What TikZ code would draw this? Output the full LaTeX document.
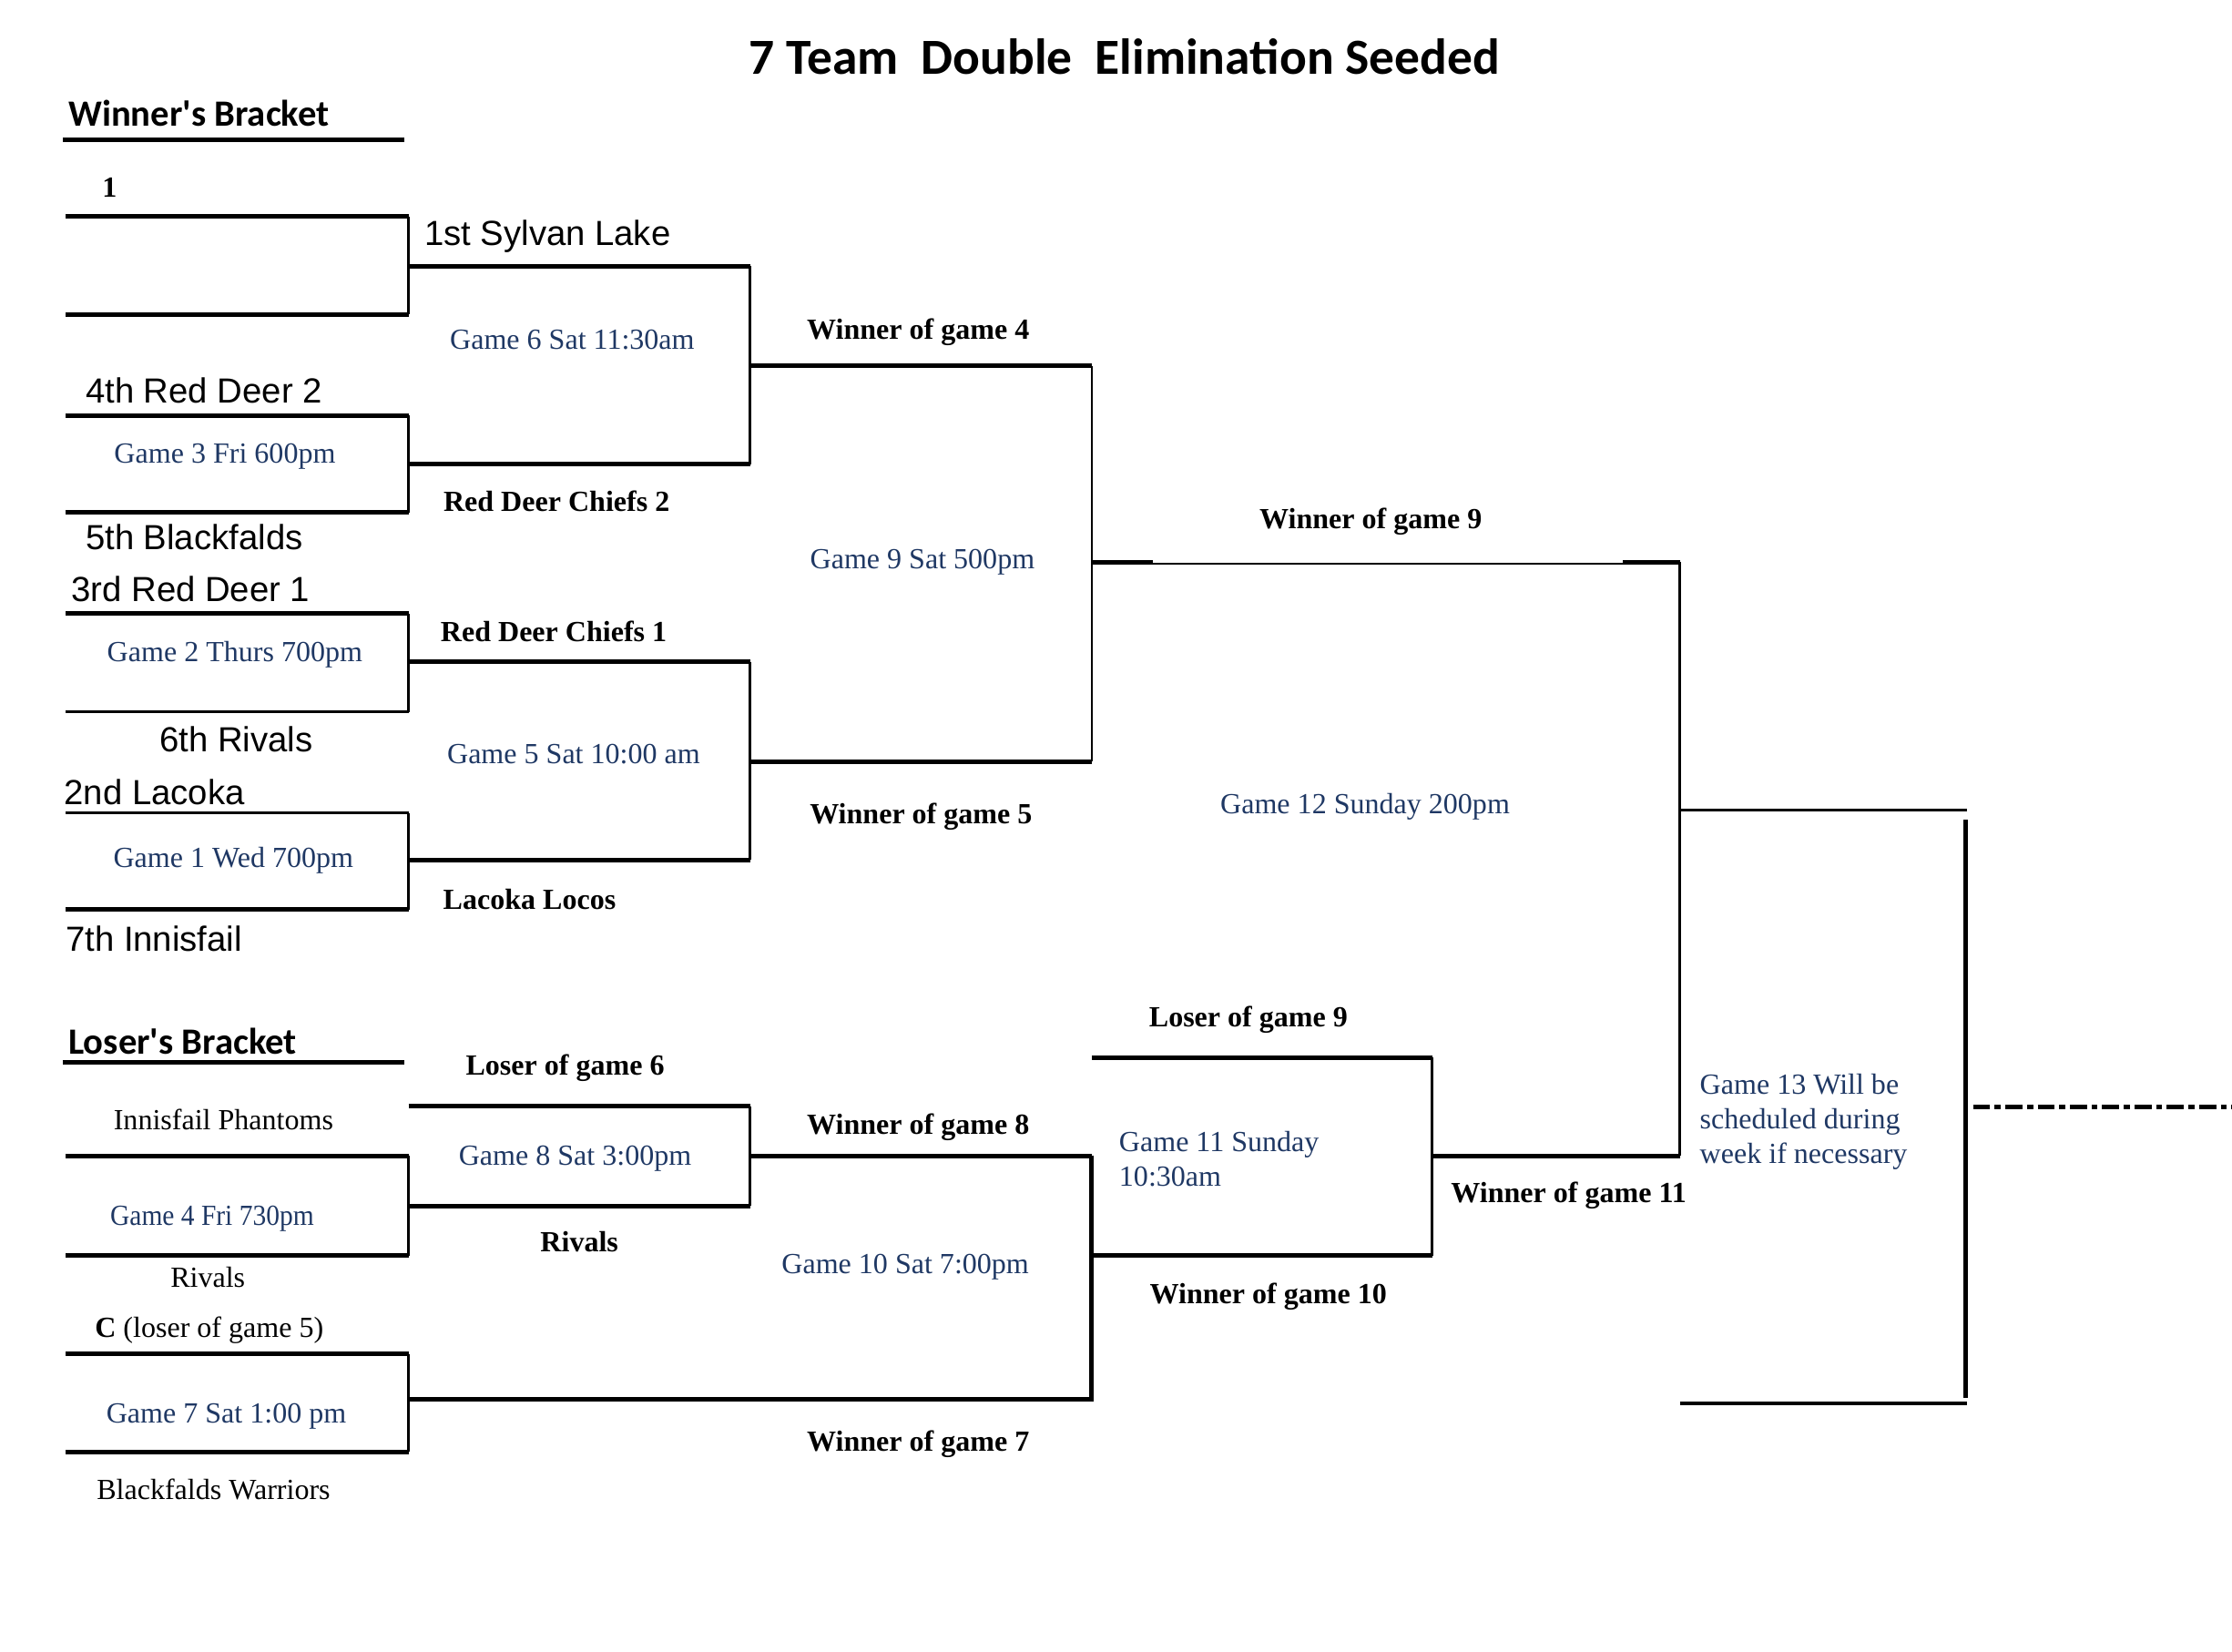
\documentclass[tikz,border=0pt]{standalone}
\usepackage{fontspec}
\setmainfont{Liberation Serif}
\newfontfamily\arialf{Liberation Sans}
\newfontfamily\calib{Carlito}
\definecolor{gblue}{HTML}{1F3864}
\begin{document}
\begin{tikzpicture}[x=1pt,y=-1pt,
  thk/.style={line width=3.2pt},
  thn/.style={line width=1.8pt},
  med/.style={line width=2.4pt},
  lbl/.style={inner sep=0pt,yshift=-2.5pt,font=\fontsize{20.5}{24}\selectfont\bfseries,text height=14pt,text depth=4pt},
  plain/.style={inner sep=0pt,yshift=-2.5pt,font=\fontsize{20.5}{24}\selectfont,text height=14pt,text depth=4pt},
  game/.style={inner sep=0pt,yshift=-2.5pt,text=gblue,font=\fontsize{20.5}{24}\selectfont,text height=14pt,text depth=4pt},
  gamemulti/.style={inner sep=0pt,text=gblue,font=\fontsize{20.5}{24.5}\selectfont,align=left},
  team/.style={inner sep=0pt,yshift=-3pt,font=\arialf\fontsize{24.5}{28}\selectfont,text height=17.5pt,text depth=5pt},
  hdr/.style={inner sep=0pt,yshift=-3pt,font=\calib\bfseries\fontsize{26}{30}\selectfont,text height=17pt,text depth=5.5pt},
  ttl/.style={inner sep=0pt,font=\calib\bfseries\fontsize{35.5}{40}\selectfont}
]
\useasboundingbox (0,0) rectangle (1568,1160);

% ---------- titles ----------
\node[ttl] (title) at (790,40) {7 Team\ \ Double\ \ Elimination Seeded};
\node[hdr,anchor=west] (wb) at (48,80) {Winner's\ Bracket};
\draw[thk] (44,98) -- (284,98);
\node[hdr,anchor=west] (lb) at (48,732) {Loser's Bracket};
\draw[thk] (44,746) -- (284,746);

% ---------- winner's bracket, round 1 ----------
\node[lbl] (seed1) at (77,131) {1};
\draw[thk] (46,152) -- (287,152);
\draw[thk] (46,221) -- (287,221);
\draw[thn] (287,152) -- (287,221);

\node[team,anchor=west] (t4) at (60,274) {4th Red Deer 2};
\draw[thk] (46,292) -- (287,292);
\draw[thk] (46,360) -- (287,360);
\draw[thn] (287,292) -- (287,360);
\node[game] (g3) at (158,318) {Game 3 Fri 600pm};
\node[team,anchor=west] (t5) at (60,377) {5th Blackfalds};

\node[team,anchor=west] (t3) at (50,413) {3rd Red Deer 1};
\draw[thk] (46,431) -- (287,431);
\draw[thn] (46,500) -- (287,500);
\draw[thn] (287,431) -- (287,500);
\node[game] (g2) at (165,457) {Game 2 Thurs 700pm};
\node[team] (t6) at (166,519) {6th Rivals};

\node[team,anchor=west] (t2) at (45,556) {2nd Lacoka};
\draw[thn] (46,571) -- (287,571);
\draw[thk] (46,639) -- (287,639);
\draw[thn] (287,571) -- (287,639);
\node[game] (g1) at (164,602) {Game 1 Wed 700pm};
\node[team,anchor=west] (t7) at (46,659) {7th Innisfail};

% ---------- winner's bracket, round 2 ----------
\node[team,anchor=west] (sl) at (298,163) {1st Sylvan Lake};
\draw[thk] (287,187) -- (527,187);
\draw[thk] (287,326) -- (527,326);
\draw[thn] (527,187) -- (527,326);
\node[game] (g6) at (402,238) {Game 6 Sat 11:30am};
\node[lbl] (rdc2) at (391,352) {Red Deer Chiefs 2};

\node[lbl] (rdc1) at (389,443) {Red Deer Chiefs 1};
\draw[thk] (287,465) -- (527,465);
\draw[thk] (287,604) -- (527,604);
\draw[thn] (527,465) -- (527,604);
\node[game] (g5) at (403,529) {Game 5 Sat 10:00 am};
\node[lbl] (ll) at (372,631) {Lacoka Locos};

% ---------- game 9 ----------
\node[lbl] (w4) at (645,231) {Winner of game 4};
\draw[thk] (527,257) -- (767,257);
\draw[thk] (527,535) -- (767,535);
\draw[thn] (767,257) -- (767,535);
\node[game] (g9) at (648,392) {Game 9 Sat 500pm};
\node[lbl] (w5) at (647,571) {Winner of game 5};

% ---------- game 12 ----------
\node[lbl] (w9) at (963,364) {Winner of game 9};
\draw[thn] (767,396) -- (1180,396);
\draw[line width=2.6pt] (767,395) -- (810,395);
\draw[line width=2.6pt] (1140,395) -- (1180,395);
\draw[thn] (1180,395) -- (1180,812);
\node[game] (g12) at (959,564) {Game 12 Sunday 200pm};

% ---------- game 13 ----------
\draw[med] (1180,569) -- (1382,569);
\draw[thk] (1381,576) -- (1381,982);
\draw[med] (1180,986) -- (1382,986);
\node[gamemulti,anchor=west] (g13) at (1194,788) {Game 13 Will be\\scheduled during\\week if necessary};
\draw[line width=3.4pt,dash pattern=on 12pt off 3.2pt on 4.3pt off 3.2pt] (1386,777.5) -- (1568,777.5);

% ---------- game 11 ----------
\node[lbl] (l9) at (877,714) {Loser of game 9};
\draw[thk] (767,743) -- (1006,743);
\draw[thk] (767,882) -- (1006,882);
\draw[thn] (1006,743) -- (1006,882);
\node[gamemulti,anchor=west] (g11) at (786,814) {Game 11 Sunday\\10:30am};
\node[lbl] (w10) at (891,908) {Winner of game 10};
\draw[thk] (1006,812) -- (1180,812);
\node[lbl] (w11) at (1102,837) {Winner of game 11};

% ---------- loser's bracket ----------
\node[plain] (ip) at (157,786) {Innisfail Phantoms};
\draw[thk] (46,812) -- (287,812);
\draw[thk] (46,882) -- (287,882);
\draw[thn] (287,812) -- (287,882);
\node[game] (g4) at (149,853) {\scalebox{0.92}[1]{Game 4 Fri 730pm}};
\node[plain] (rv) at (146,897) {Rivals};

\node[lbl] (l6) at (397,748) {Loser of game 6};
\draw[thk] (287,777) -- (527,777);
\draw[thk] (287,847) -- (527,847);
\draw[thn] (527,777) -- (527,847);
\node[game] (g8) at (404,811) {Game 8 Sat 3:00pm};
\node[lbl] (rvb) at (407,872) {Rivals};

\node[plain] (cl5) at (147,932) {\textbf{C} (loser of game 5)};
\draw[thk] (46,951) -- (287,951);
\draw[thk] (46,1020) -- (287,1020);
\draw[thn] (287,951) -- (287,1020);
\node[game] (g7) at (159,992) {Game 7 Sat 1:00 pm};
\node[plain] (bw) at (150,1046) {Blackfalds Warriors};

\node[lbl] (w8) at (645,789) {Winner of game 8};
\draw[thk] (527,812) -- (767,812);
\draw[line width=3.5pt] (287,983) -- (768,983);
\draw[thk] (767,812) -- (767,984);
\node[game] (g10) at (636,887) {Game 10 Sat 7:00pm};
\node[lbl] (w7) at (645,1012) {Winner of game 7};
\end{tikzpicture}
\end{document}
